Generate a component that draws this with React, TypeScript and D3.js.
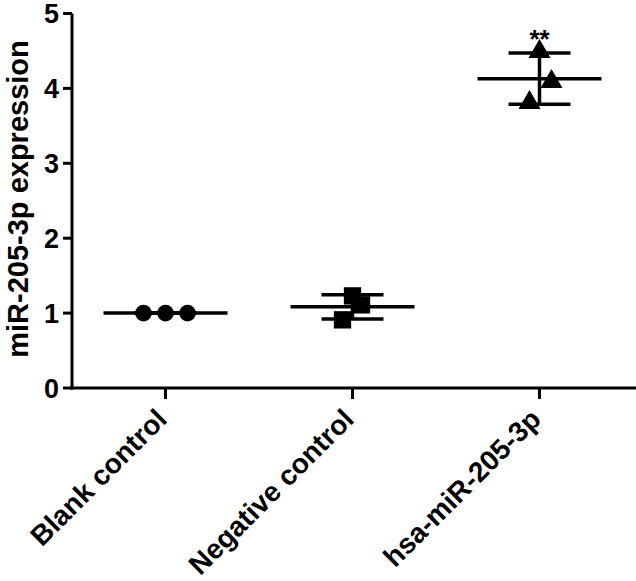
import React from "react";
import * as d3 from "d3";

// group names and replicate values
const groups = ["Blank control", "Negative control", "hsa-miR-205-3p"];
const blankValues = [1.0, 1.0, 1.0];
const negativeValues = [1.23, 1.11, 0.91];
const mimicValues = [4.49, 4.09, 3.81];
const yTicks = [0, 1, 2, 3, 4, 5];
const yLabel = "miR-205-3p expression";
const sigLabel = "**";

const width = 636;
const height = 581;
const font = "'Liberation Sans', Arial, sans-serif";

const App = () => {
  const x = d3.scaleBand().domain(groups).range([72, 633]);
  const y = d3.scaleLinear().domain([0, 5]).range([388, 13.5]);
  const cx = (g: string) => (x(g) as number) + x.bandwidth() / 2;

  const series = [
    { name: groups[0], values: blankValues, shape: d3.symbolCircle, size: 220, spread: [-22, 0, 22] },
    { name: groups[1], values: negativeValues, shape: d3.symbolSquare, size: 300, spread: [0, 9, -10] },
    { name: groups[2], values: mimicValues, shape: d3.symbolTriangle, size: 210, spread: [0, 12, -10] },
  ];

  return (
    <svg width={width} height={height} style={{ position: "fixed", left: 0, top: 0, background: "#fff" }}>
      {/* y axis */}
      <line x1={72} x2={72} y1={y(5)} y2={y(0) + 1.5} stroke="#000" strokeWidth={3} />
      {yTicks.map((t) => (
        <g key={t}>
          <line x1={63} x2={72} y1={y(t)} y2={y(t)} stroke="#000" strokeWidth={3} />
          <text x={59} y={y(t)} dy="0.36em" textAnchor="end" fontFamily={font} fontWeight="bold" fontSize={27}>
            {t}
          </text>
        </g>
      ))}
      <text
        transform={`translate(28,199) rotate(-90)`}
        textAnchor="middle"
        fontFamily={font}
        fontWeight="bold"
        fontSize={29}
      >
        {yLabel}
      </text>

      {/* x axis */}
      <line x1={70.5} x2={width} y1={y(0)} y2={y(0)} stroke="#000" strokeWidth={3} />
      {groups.map((g) => (
        <g key={g}>
          <line x1={cx(g)} x2={cx(g)} y1={y(0)} y2={y(0) + 11} stroke="#000" strokeWidth={3} />
          <text
            transform={`translate(${cx(g) + 3},${y(0) + 33}) rotate(-45)`}
            textAnchor="end"
            fontFamily={font}
            fontWeight="bold"
            fontSize={28}
          >
            {g}
          </text>
        </g>
      ))}

      {/* mean +/- SD */}
      {series.map((s) => {
        const m = d3.mean(s.values) as number;
        const sd = d3.deviation(s.values) || 0;
        const c = cx(s.name);
        return (
          <g key={s.name} stroke="#000" strokeWidth={3.5}>
            <line x1={c - 62} x2={c + 62} y1={y(m)} y2={y(m)} />
            <line x1={c} x2={c} y1={y(m + sd)} y2={y(m - sd)} />
            <line x1={c - 31} x2={c + 31} y1={y(m + sd)} y2={y(m + sd)} />
            <line x1={c - 31} x2={c + 31} y1={y(m - sd)} y2={y(m - sd)} />
          </g>
        );
      })}

      {/* replicate points */}
      {series.map((s) =>
        s.values.map((v, i) => (
          <path
            key={s.name + i}
            d={d3.symbol().type(s.shape).size(s.size)() as string}
            transform={`translate(${cx(s.name) + s.spread[i]},${y(v)})`}
            fill="#000"
          />
        ))
      )}

      <text x={cx(groups[2])} y={48} textAnchor="middle" fontFamily={font} fontWeight="bold" fontSize={26}>
        {sigLabel}
      </text>
    </svg>
  );
};

export default App;
